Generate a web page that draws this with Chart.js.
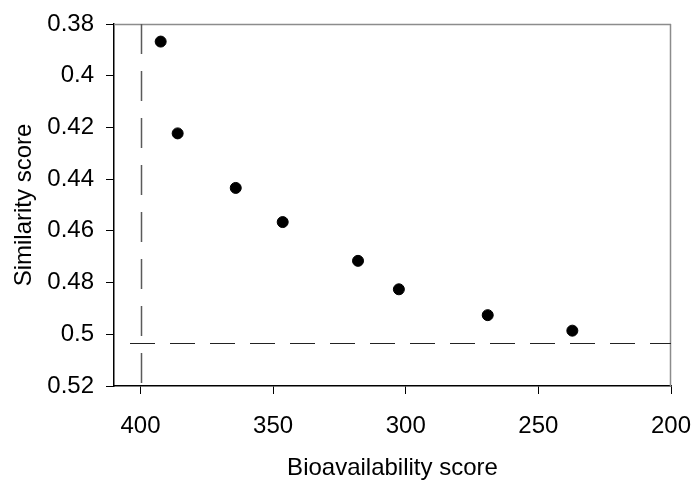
<!DOCTYPE html>
<html>
<head>
<meta charset="utf-8">
<script src="https://cdn.jsdelivr.net/npm/chart.js@4"></script>
<style>
  html, body { margin: 0; padding: 0; background: #fff; }
  canvas { display: block; }
</style>
</head>
<body>
<canvas id="chart" width="695" height="483"></canvas>
<script>
// Werte
const bioScores = [392.4, 386.0, 364.1, 346.4, 318.0, 302.6, 269.1, 237.2];
const simScores = [0.3868, 0.4223, 0.4434, 0.4566, 0.4716, 0.4826, 0.4926, 0.4986];

const xTicks = [400, 350, 300, 250, 200];
const yTicks = [0.38, 0.4, 0.42, 0.44, 0.46, 0.48, 0.5, 0.52];

// Referenzlinien (gestrichelt)
const refX = 400;
const refY = 0.5035;

const points = bioScores.map((x, i) => ({ x: x, y: simScores[i] }));

// Rahmen und gestrichelte Linien zeichnen
const framePlugin = {
  id: "frame",
  beforeDatasetsDraw(chart) {
    const { ctx, chartArea, scales } = chart;
    const a = chartArea;
    ctx.save();
    // grauer Rahmen oben und rechts
    ctx.strokeStyle = "#8c8c8c";
    ctx.lineWidth = 1.5;
    ctx.beginPath();
    ctx.moveTo(a.left, a.top + 0.5);
    ctx.lineTo(a.right, a.top + 0.5);
    ctx.moveTo(a.right - 0.5, a.top);
    ctx.lineTo(a.right - 0.5, a.bottom);
    ctx.stroke();

    // vertikale Linie bei x = 400
    const px = Math.round(scales.x.getPixelForValue(refX)) + 0.5;
    ctx.strokeStyle = "#5a5a5a";
    ctx.lineWidth = 1.5;
    ctx.setLineDash([30, 17]);
    ctx.beginPath();
    ctx.moveTo(px, a.top);
    ctx.lineTo(px, a.bottom + 8);
    ctx.stroke();

    // horizontale Linie
    const py = Math.round(scales.y.getPixelForValue(refY)) + 0.5;
    ctx.strokeStyle = "#222";
    ctx.lineWidth = 1;
    ctx.setLineDash([25, 15]);
    ctx.beginPath();
    ctx.moveTo(a.left + 16, py);
    ctx.lineTo(a.right, py);
    ctx.stroke();
    ctx.restore();
  },
};

const font = { family: "'Liberation Sans', Arial, sans-serif", size: 24 };

new Chart(document.getElementById("chart"), {
  type: "scatter",
  data: {
    datasets: [
      {
        data: points,
        backgroundColor: "#000",
        borderColor: "#000",
        pointRadius: 5.5,
        pointHoverRadius: 5.5,
      },
    ],
  },
  options: {
    responsive: false,
    animation: false,
    events: [],
    layout: { padding: { left: 0, right: 24, top: 24, bottom: 0 } },
    plugins: {
      legend: { display: false },
      tooltip: { enabled: false },
    },
    scales: {
      x: {
        type: "linear",
        reverse: true,
        min: 200,
        max: 410,
        afterBuildTicks: (scale) => {
          scale.ticks = xTicks.map((v) => ({ value: v }));
        },
        afterFit: (scale) => {
          scale.height = 97;
          // kein zusätzlicher Rand für die äußeren Beschriftungen
          scale.paddingLeft = 0;
          scale.paddingRight = 0;
        },
        grid: {
          display: true,
          drawOnChartArea: false,
          drawTicks: true,
          tickLength: 8,
          color: "#000",
        },
        border: { display: true, color: "#000", width: 1.5 },
        ticks: {
          color: "#000",
          font: font,
          padding: 18,
          maxRotation: 0,
          callback: (v) => String(v),
        },
        title: {
          display: true,
          text: "Bioavailability score",
          color: "#000",
          font: font,
          padding: { top: 10, bottom: 0 },
        },
      },
      y: {
        type: "linear",
        reverse: true,
        min: 0.38,
        max: 0.52,
        afterBuildTicks: (scale) => {
          scale.ticks = yTicks.map((v) => ({ value: v }));
        },
        afterFit: (scale) => {
          scale.width = 114;
          scale.paddingTop = 0;
          scale.paddingBottom = 0;
        },
        grid: {
          display: true,
          drawOnChartArea: false,
          drawTicks: true,
          tickLength: 8,
          color: "#000",
        },
        border: { display: true, color: "#000", width: 1.5 },
        ticks: {
          color: "#000",
          font: font,
          padding: 12,
          callback: (v) => String(v),
        },
        title: {
          display: true,
          text: "Similarity score",
          color: "#000",
          font: font,
          padding: { top: 10, bottom: 4 },
        },
      },
    },
  },
  plugins: [framePlugin],
});
</script>
</body>
</html>
